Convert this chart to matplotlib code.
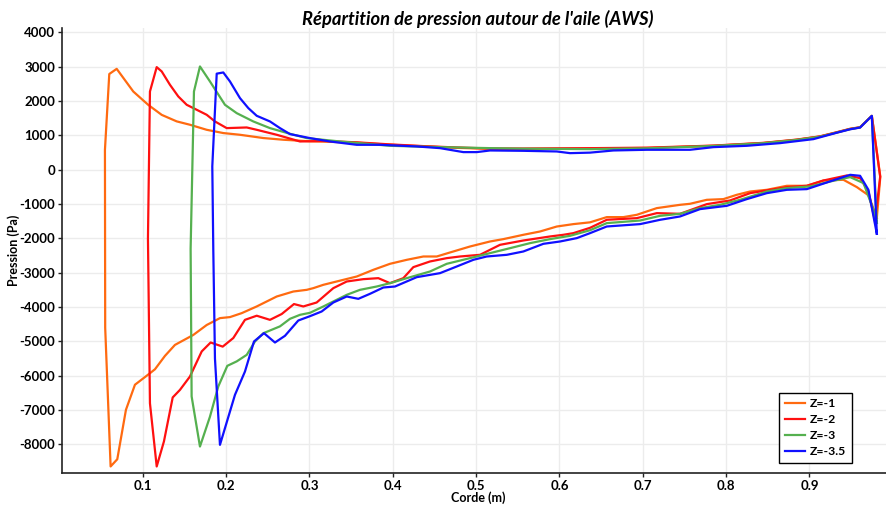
import matplotlib
matplotlib.use("Agg")
import matplotlib.pyplot as plt

plt.rcParams['font.family'] = ['Lato', 'DejaVu Sans']

# Pressure distribution along the chord, upper surface (leading edge -> trailing edge)
# and lower surface (leading edge -> trailing edge) for each spanwise section.
labels = ["Z=-1", "Z=-2", "Z=-3", "Z=-3.5"]
colors = ["#ff6a10", "#ff1010", "#55b04f", "#1010ff"]

x_up_1 = [0.0547, 0.0599, 0.0688, 0.0887, 0.1067, 0.1228, 0.1408, 0.1570, 0.1768, 0.1967,
          0.2167, 0.2447, 0.2690, 0.3007, 0.3167, 0.3568, 0.3967, 0.4367, 0.4768, 0.5167,
          0.5567, 0.6367, 0.7048, 0.7847, 0.8447, 0.8848, 0.9127, 0.9328, 0.9488, 0.9607,
          0.9748, 0.9850, 0.9808]
p_up_1 = [580, 2790, 2940, 2280, 1890, 1600, 1410, 1310, 1165, 1070,
          1020, 925, 875, 830, 820, 790, 730, 685, 640, 610,
          605, 620, 635, 700, 780, 875, 970, 1090, 1190, 1235,
          1570, -200, -1400]
x_lo_1 = [0.0550, 0.0615, 0.0695, 0.0799, 0.0907, 0.1079, 0.1147, 0.1267, 0.1387, 0.1607,
          0.1768, 0.1927, 0.2047, 0.2188, 0.2368, 0.2608, 0.2807, 0.2968, 0.3047, 0.3167,
          0.3327, 0.3568, 0.3767, 0.3967, 0.4168, 0.4367, 0.4528, 0.4687, 0.4927, 0.5167,
          0.5327, 0.5567, 0.5767, 0.5968, 0.6167, 0.6367, 0.6568, 0.6767, 0.6928, 0.7168,
          0.7447, 0.7567, 0.7768, 0.7967, 0.8128, 0.8288, 0.8488, 0.8728, 0.8968, 0.9167,
          0.9407, 0.9568, 0.9707, 0.9808]
p_lo_1 = [-4600, -8640, -8430, -6990, -6260, -5940, -5810, -5420, -5100, -4810,
          -4520, -4320, -4290, -4175, -3980, -3690, -3545, -3496, -3447, -3350,
          -3253, -3108, -2913, -2738, -2622, -2525, -2525, -2408, -2234, -2088,
          -2019, -1893, -1797, -1652, -1582, -1530, -1378, -1378, -1311, -1116,
          -1020, -990, -874, -854, -728, -632, -583, -466, -466, -312,
          -291, -504, -740, -1400]

x_up_2 = [0.1087, 0.1168, 0.1228, 0.1327, 0.1427, 0.1528, 0.1648, 0.1768, 0.1867, 0.2008,
          0.2248, 0.2368, 0.2608, 0.2887, 0.3167, 0.3568, 0.3967, 0.4367, 0.4768, 0.5167,
          0.5567, 0.6367, 0.7048, 0.7847, 0.8447, 0.8848, 0.9127, 0.9328, 0.9488, 0.9607,
          0.9748, 0.9848, 0.9787]
p_up_2 = [2280, 2990, 2865, 2476, 2136, 1893, 1748, 1602, 1408, 1214,
          1233, 1165, 1020, 825, 840, 800, 740, 690, 650, 620,
          620, 630, 645, 705, 785, 880, 975, 1095, 1195, 1240,
          1570, -200, -1500]
x_lo_2 = [0.1063, 0.1087, 0.1168, 0.1255, 0.1360, 0.1447, 0.1567, 0.1708, 0.1815, 0.1960,
          0.2087, 0.2227, 0.2368, 0.2527, 0.2668, 0.2815, 0.2927, 0.3087, 0.3287, 0.3448,
          0.3647, 0.3827, 0.3967, 0.4127, 0.4247, 0.4447, 0.4648, 0.4807, 0.5047, 0.5287,
          0.5567, 0.5887, 0.6047, 0.6167, 0.6367, 0.6568, 0.6928, 0.7168, 0.7447, 0.7768,
          0.8047, 0.8288, 0.8528, 0.8728, 0.8968, 0.9167, 0.9448, 0.9607, 0.9707, 0.9787]
p_lo_2 = [-2000, -6800, -8640, -7910, -6630, -6410, -6020, -5290, -5030, -5150,
          -4900, -4370, -4250, -4370, -4200, -3910, -3980, -3865, -3447, -3253,
          -3185, -3156, -3302, -3156, -2835, -2670, -2573, -2525, -2476, -2185,
          -2059, -1942, -1893, -1845, -1690, -1456, -1408, -1262, -1282, -1000,
          -893, -680, -583, -505, -466, -312, -165, -243, -631, -1500]

x_up_3 = [0.1615, 0.1687, 0.1807, 0.1987, 0.2128, 0.2327, 0.2527, 0.2767, 0.2968, 0.3367,
          0.3967, 0.4567, 0.5167, 0.5567, 0.6367, 0.7048, 0.7847, 0.8447, 0.8848, 0.9127,
          0.9328, 0.9488, 0.9607, 0.9748, 0.9808]
p_up_3 = [2280, 3010, 2573, 1893, 1650, 1408, 1214, 1049, 923, 825,
          699, 660, 631, 615, 602, 625, 695, 775, 870, 965,
          1085, 1185, 1235, 1570, -1550]
x_lo_3 = [0.1575, 0.1587, 0.1687, 0.1807, 0.1907, 0.2015, 0.2128, 0.2248, 0.2347, 0.2447,
          0.2647, 0.2767, 0.2887, 0.3007, 0.3167, 0.3448, 0.3607, 0.3808, 0.3967, 0.4168,
          0.4447, 0.4648, 0.4927, 0.5167, 0.5408, 0.5647, 0.5887, 0.6127, 0.6367, 0.6568,
          0.6967, 0.7208, 0.7447, 0.7687, 0.7927, 0.8167, 0.8488, 0.8728, 0.9007, 0.9247,
          0.9488, 0.9648, 0.9768, 0.9808]
p_lo_3 = [-2300, -6600, -8060, -7190, -6310, -5710, -5580, -5390, -5000, -4760,
          -4560, -4340, -4224, -4165, -3981, -3641, -3496, -3399, -3302, -3156,
          -2962, -2738, -2573, -2427, -2282, -2136, -2019, -1923, -1760, -1553,
          -1477, -1340, -1282, -1116, -1020, -874, -632, -533, -486, -341,
          -213, -388, -1165, -1550]

x_up_4 = [0.1835, 0.1888, 0.1967, 0.2047, 0.2167, 0.2267, 0.2368, 0.2527, 0.2647, 0.2767,
          0.3007, 0.3247, 0.3568, 0.3847, 0.4288, 0.4567, 0.4847, 0.5008, 0.5167, 0.5567,
          0.5968, 0.6127, 0.6367, 0.6647, 0.7048, 0.7567, 0.7847, 0.8248, 0.8648, 0.9047,
          0.9328, 0.9488, 0.9607, 0.9748, 0.9808]
p_up_4 = [100, 2800, 2835, 2573, 2088, 1797, 1573, 1408, 1214, 1040,
          923, 825, 728, 728, 680, 631, 515, 515, 563, 553,
          534, 485, 500, 563, 583, 583, 660, 699, 777, 893,
          1080, 1180, 1230, 1570, -1864]
x_lo_4 = [0.1847, 0.1867, 0.1927, 0.2107, 0.2227, 0.2335, 0.2455, 0.2587, 0.2707, 0.2867,
          0.3007, 0.3147, 0.3287, 0.3448, 0.3587, 0.3727, 0.3887, 0.4027, 0.4288, 0.4567,
          0.4768, 0.4967, 0.5127, 0.5368, 0.5567, 0.5807, 0.6007, 0.6208, 0.6367, 0.6568,
          0.6967, 0.7208, 0.7447, 0.7687, 0.8008, 0.8248, 0.8488, 0.8728, 0.8968, 0.9208,
          0.9488, 0.9607, 0.9707, 0.9808]
p_lo_4 = [-2330, -5500, -8010, -6554, -5875, -5001, -4758, -5030, -4835, -4389,
          -4263, -4127, -3865, -3690, -3758, -3612, -3428, -3399, -3127, -3010,
          -2816, -2622, -2525, -2476, -2379, -2156, -2088, -1990, -1845, -1651,
          -1582, -1456, -1359, -1145, -1049, -854, -680, -583, -563, -369,
          -146, -175, -583, -1864]

sections = [
    (x_up_1, p_up_1, x_lo_1, p_lo_1),
    (x_up_2, p_up_2, x_lo_2, p_lo_2),
    (x_up_3, p_up_3, x_lo_3, p_lo_3),
    (x_up_4, p_up_4, x_lo_4, p_lo_4),
]

x_ticks = [0.1, 0.2, 0.3, 0.4, 0.5, 0.6, 0.7, 0.8, 0.9]
y_ticks = [-8000, -7000, -6000, -5000, -4000, -3000, -2000, -1000, 0, 1000, 2000, 3000, 4000]

fig = plt.figure(figsize=(8.87, 5.09), dpi=100)
ax = fig.add_axes([0.0702, 0.0701, 0.9298, 0.8749])

for (xu, pu, xl, pl), lab, col in zip(sections, labels, colors):
    # closed contour: trailing edge -> upper surface -> leading edge -> lower surface -> trailing edge
    xs = xu[::-1] + xl
    ps = pu[::-1] + pl
    ax.plot(xs, ps, color=col, lw=1.6, label=lab, solid_joinstyle='round')

ax.set_xlim(0.0035, 0.993)
ax.set_ylim(-8840, 4130)
ax.set_xticks(x_ticks)
ax.set_yticks(y_ticks)
ax.set_xticklabels([f"{t:g}" for t in x_ticks])
ax.set_yticklabels([str(t) for t in y_ticks])
ax.grid(True, color="#ececec", lw=1.0)
ax.set_axisbelow(True)

for side in ("top", "right"):
    ax.spines[side].set_visible(False)
for side in ("left", "bottom"):
    ax.spines[side].set_linewidth(1.2)
    ax.spines[side].set_color("#222222")

ax.tick_params(direction="out", length=3, width=1, colors="#222222", pad=2)
for lbl in ax.get_xticklabels() + ax.get_yticklabels():
    lbl.set_fontweight("bold")
    lbl.set_fontsize(9.5)
    lbl.set_color("black")

ax.set_xlabel("Corde (m)", fontsize=9, fontweight="bold")
ax.xaxis.set_label_coords(0.504, -0.041)
ax.set_ylabel("Pression (Pa)", fontsize=9, fontweight="bold")
ax.yaxis.set_label_coords(-0.051, 0.5)

fig.text(0.539, 0.963, "Répartition de pression autour de l'aile (AWS)",
         ha="center", va="center", fontsize=13.2, fontweight="bold", style="italic")

leg = ax.legend(loc="lower right", bbox_to_anchor=(0.9605, 0.0904),
                bbox_transform=fig.transFigure, fancybox=False, framealpha=1,
                edgecolor="black", handlelength=1.7, handletextpad=0.4,
                borderpad=0.45, borderaxespad=0, labelspacing=0.42,
                prop={"weight": "bold", "size": 8.8})
leg.get_frame().set_linewidth(1.0)

fig.savefig("out.png", dpi=100)
